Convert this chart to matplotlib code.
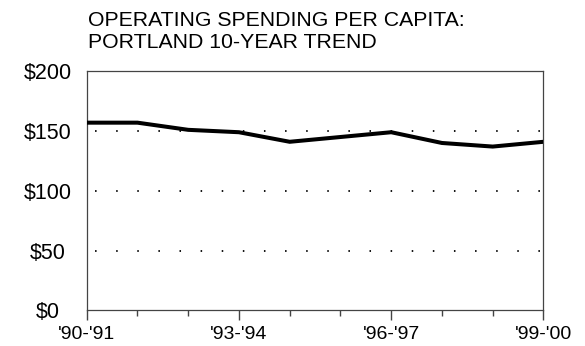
import matplotlib
matplotlib.use("Agg")
import matplotlib.pyplot as plt
from matplotlib.ticker import FixedLocator, FuncFormatter

plt.rcParams['font.family'] = ['Liberation Sans', 'DejaVu Sans']
plt.rcParams['lines.scale_dashes'] = False

# fiscal years and operating spending per capita (dollars)
years = ["'90-'91", "'91-'92", "'92-'93", "'93-'94", "'94-'95",
         "'95-'96", "'96-'97", "'97-'98", "'98-'99", "'99-'00"]
spending = [157, 157, 151, 149, 141, 145, 149, 140, 137, 141]
labeled_years = ["'90-'91", "'93-'94", "'96-'97", "'99-'00"]
y_ticks = [0, 50, 100, 150, 200]

title = "OPERATING SPENDING PER CAPITA:\nPORTLAND 10-YEAR TREND"

fig = plt.figure(figsize=(5.85, 3.46), dpi=100)
ax = fig.add_axes([0.1482, 0.1032, 0.929 - 0.1482, 0.794 - 0.1032])

x = list(range(len(years)))
ax.plot(x, spending, color='black', lw=2.9, solid_joinstyle='miter', zorder=3)

ax.set_xlim(0, len(years) - 1)
ax.set_ylim(y_ticks[0], y_ticks[-1])

# dotted gridlines at the inner y ticks
for v in y_ticks[1:-1]:
    ax.axhline(v, color='black', lw=1.3, linestyle=(9.4, (1.1, 14.1)), zorder=2)

major = [years.index(y) for y in labeled_years]
minor = [i for i in x if i not in major]
ax.xaxis.set_major_locator(FixedLocator(major))
ax.xaxis.set_minor_locator(FixedLocator(minor))
ax.set_xticklabels(labeled_years)
ax.tick_params(axis='x', which='major', direction='out', length=7.2, width=1.0,
               color='#444444', pad=4.3, labelsize=14)
ax.tick_params(axis='x', which='minor', direction='out', length=4.3, width=1.0,
               color='#444444')

ax.set_yticks(y_ticks)
ax.yaxis.set_major_formatter(FuncFormatter(lambda v, p: f"${v:.0f}"))
ax.tick_params(axis='y', length=0, pad=27.9, labelsize=15.5)
for lbl in ax.get_yticklabels():
    lbl.set_horizontalalignment('center')

for sp in ax.spines.values():
    sp.set_color('#444444')
    sp.set_linewidth(0.9)

# two-line heading; baseline of the last line sits above the plot box
fig.text(88 / 585, 1 - 48.3 / 346, title, fontsize=15.3, va='baseline',
         ha='left', color='black', linespacing=1.25)

fig.savefig("out.png", dpi=100)
